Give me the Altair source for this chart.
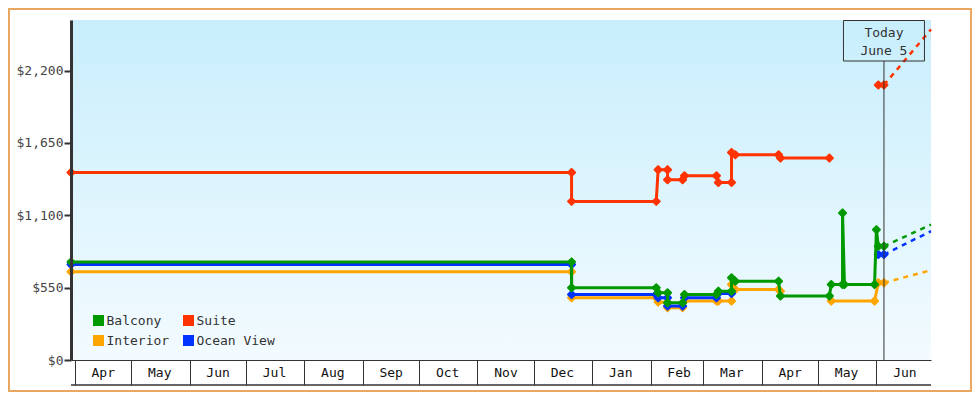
import altair as alt
import pandas as pd

MONO = "DejaVu Sans Mono"

# draw order (bottom to top) and colours
SERIES_NAMES = ["Interior", "Ocean View", "Balcony", "Suite"]
SERIES_COLORS = ["#ffa500", "#0033ff", "#009900", "#ff3300"]
LEGEND_ORDER = ["Balcony", "Suite", "Interior", "Ocean View"]

SUITE_DATES = ["2024-03-30", "2024-12-21", "2024-12-21", "2025-02-04", "2025-02-05",
               "2025-02-10", "2025-02-10", "2025-02-18", "2025-02-19", "2025-03-08",
               "2025-03-09", "2025-03-16", "2025-03-16", "2025-03-18", "2025-04-10",
               "2025-04-11", "2025-05-07", "2025-06-02", "2025-06-05"]
SUITE_PRICES = [1426, 1426, 1206, 1206, 1447, 1447, 1371, 1371, 1401, 1401,
                1350, 1350, 1578, 1560, 1560, 1535, 1535, 2091, 2091]
SUITE_SEGS = [0, 0, 0, 0, 0, 0, 0, 0, 0, 0, 0, 0, 0, 0, 0, 0, 0, 1, 1]

BALCONY_DATES = ["2024-03-30", "2024-12-21", "2024-12-21", "2025-02-04", "2025-02-05",
                 "2025-02-10", "2025-02-10", "2025-02-18", "2025-02-19", "2025-03-08",
                 "2025-03-09", "2025-03-16", "2025-03-16", "2025-03-18", "2025-04-10",
                 "2025-04-11", "2025-05-07", "2025-05-08", "2025-05-14", "2025-05-14",
                 "2025-05-15", "2025-05-31", "2025-06-01", "2025-06-02", "2025-06-05"]
BALCONY_PRICES = [746, 746, 549, 549, 511, 511, 435, 435, 498, 498,
                  523, 523, 625, 599, 599, 486, 486, 574, 574, 1118,
                  574, 574, 991, 865, 865]
BALCONY_SEGS = [0, 0, 0, 0, 0, 0, 0, 0, 0, 0, 0, 0, 0, 0, 0, 0, 0, 0, 0, 0, 0, 0, 0, 0, 0]

OCEAN_DATES = ["2024-03-30", "2024-12-21", "2024-12-21", "2025-02-04", "2025-02-05",
               "2025-02-10", "2025-02-10", "2025-02-18", "2025-02-19", "2025-03-08",
               "2025-03-09", "2025-03-16", "2025-06-02", "2025-06-05"]
OCEAN_PRICES = [726, 726, 498, 498, 473, 473, 410, 410, 473, 473, 506, 506, 802, 802]
OCEAN_SEGS = [0, 0, 0, 0, 0, 0, 0, 0, 0, 0, 0, 0, 1, 1]

INTERIOR_DATES = ["2024-03-30", "2024-12-21", "2024-12-21", "2025-02-04", "2025-02-05",
                  "2025-02-10", "2025-02-10", "2025-02-18", "2025-02-19", "2025-03-08",
                  "2025-03-09", "2025-03-16", "2025-03-16", "2025-03-18", "2025-04-10",
                  "2025-04-11", "2025-05-08", "2025-05-31", "2025-06-02", "2025-06-05"]
INTERIOR_PRICES = [671, 671, 473, 473, 440, 440, 398, 398, 448, 448,
                   448, 448, 574, 536, 536, 523, 448, 448, 587, 587]
INTERIOR_SEGS = [0, 0, 0, 0, 0, 0, 0, 0, 0, 0, 0, 0, 0, 0, 0, 0, 1, 1, 1, 1]

# dashed projections from today to the end of the axis
PROJ_NAMES = ["Interior", "Ocean View", "Balcony", "Suite"]
PROJ_FROM = [587, 802, 865, 2091]
PROJ_TO = [683, 979, 1029, 2514]
PROJ_START = "2025-06-05"
PROJ_END = "2025-06-30"

TODAY = "2025-06-05"
TODAY_LABEL = ["Today", "June 5"]

Y_TICKS = [0, 550, 1100, 1650, 2200]
Y_MAX = 2585

W, H = 860, 340

series_src = {
    "Interior": (INTERIOR_DATES, INTERIOR_PRICES, INTERIOR_SEGS),
    "Ocean View": (OCEAN_DATES, OCEAN_PRICES, OCEAN_SEGS),
    "Balcony": (BALCONY_DATES, BALCONY_PRICES, BALCONY_SEGS),
    "Suite": (SUITE_DATES, SUITE_PRICES, SUITE_SEGS),
}

x_scale = alt.Scale(domain=[alt.DateTime(year=2024, month=3, date=30),
                            alt.DateTime(year=2025, month=6, date=30)])
y_scale = alt.Scale(domain=[0, Y_MAX], nice=False)

x_axis = alt.Axis(format="%b", tickCount={"interval": "month", "step": 1},
                  tickSize=25, tickColor="#333", tickWidth=1,
                  domainColor="#333", domainWidth=1,
                  labelFont=MONO, labelFontSize=13, labelColor="#111",
                  labelPadding=-19, labelOffset=28, labelBaseline="top",
                  labelAlign="center", labelFlush=False, labelOverlap=False,
                  grid=False, title=None, zindex=1)
y_axis = alt.Axis(values=Y_TICKS, format="$,.0f", tickSize=7, tickWidth=2,
                  tickColor="#333", domainColor="#333", domainWidth=3,
                  labelFont=MONO, labelFontSize=13, labelColor="#444",
                  labelPadding=1, grid=False, title=None, zindex=1)

X = alt.X("date:T", scale=x_scale, axis=x_axis, title=None)
Y = alt.Y("price:Q", scale=y_scale, axis=y_axis, title=None)

one = pd.DataFrame({"k": [0]})

bg = alt.Chart(one).mark_rect(
    color=alt.LinearGradient(
        gradient="linear",
        stops=[alt.GradientStop(color="#c8eefc", offset=0),
               alt.GradientStop(color="#f3fbff", offset=1)],
        x1=0, x2=0, y1=0, y2=1)
).encode(x=alt.value(0), x2=alt.value(W), y=alt.value(0), y2=alt.value(H))

layers = [bg]
for name, color in zip(SERIES_NAMES, SERIES_COLORS):
    dates, prices, segs = series_src[name]
    sub = pd.DataFrame({
        "date": pd.to_datetime(dates),
        "price": prices,
        "seg": segs,
        "idx": list(range(len(dates))),
    })
    line = alt.Chart(sub).mark_line(strokeWidth=3, color=color).encode(
        x=X, y=Y, detail="seg:N", order="idx:Q")
    pts = alt.Chart(sub).mark_point(shape="diamond", filled=True, size=50,
                                    opacity=1, color=color, stroke=color,
                                    strokeWidth=2, strokeJoin="round").encode(x=X, y=Y)
    layers += [line, pts]

proj_rows = []
for n, a, b in zip(PROJ_NAMES, PROJ_FROM, PROJ_TO):
    proj_rows.append({"series": n, "date": pd.Timestamp(PROJ_START), "price": a})
    proj_rows.append({"series": n, "date": pd.Timestamp(PROJ_END), "price": b})
proj_df = pd.DataFrame(proj_rows)
proj = alt.Chart(proj_df).mark_line(strokeDash=[5, 5], strokeWidth=2.5).encode(
    x=X, y=Y,
    color=alt.Color("series:N", scale=alt.Scale(domain=SERIES_NAMES, range=SERIES_COLORS),
                    legend=None),
    detail="series:N")
layers.append(proj)

today_df = pd.DataFrame({"date": [pd.Timestamp(TODAY)]})
today_rule = alt.Chart(today_df).mark_rule(color="#333", strokeWidth=1).encode(
    x=X, y=alt.value(41), y2=alt.value(H))
today_box = alt.Chart(today_df).mark_rect(
    xOffset=-40.5, x2Offset=40.5, fillOpacity=0, stroke="#333", strokeWidth=1
).encode(x=X, x2="date:T", y=alt.value(0.5), y2=alt.value(41))
today_t1 = alt.Chart(today_df).mark_text(
    font=MONO, fontSize=13, color="#333", align="center", baseline="alphabetic"
).encode(x=X, y=alt.value(16.5), text=alt.value(TODAY_LABEL[0]))
today_t2 = alt.Chart(today_df).mark_text(
    font=MONO, fontSize=13, color="#333", align="center", baseline="alphabetic"
).encode(x=X, y=alt.value(34.5), text=alt.value(TODAY_LABEL[1]))
layers += [today_rule, today_box, today_t1, today_t2]

# legend inside the plot, 2 columns
color_of = dict(zip(SERIES_NAMES, SERIES_COLORS))
for i, name in enumerate(LEGEND_ORDER):
    col, row = i % 2, i // 2
    sq = alt.Chart(one).mark_square(size=121, opacity=1, filled=True,
                                    color=color_of[name]).encode(
        x=alt.value(27.5 + 90 * col), y=alt.value(300.5 + 20 * row))
    tx = alt.Chart(one).mark_text(font=MONO, fontSize=13, color="#333",
                                  align="left", baseline="alphabetic").encode(
        x=alt.value(35.5 + 90 * col), y=alt.value(304.5 + 20 * row),
        text=alt.value(name))
    layers += [sq, tx]

# bottom line of the month boxes
bottom = alt.Chart(one).mark_rule(color="#333", strokeWidth=1.5).encode(
    x=alt.value(0), x2=alt.value(W), y=alt.value(H + 25), y2=alt.value(H + 25))
# outer frame
frame = alt.Chart(one).mark_rect(fillOpacity=0, stroke="#e8a862", strokeWidth=2).encode(
    x=alt.value(-62), x2=alt.value(900), y=alt.value(-11), y2=alt.value(371))
layers += [bottom, frame]

chart = alt.layer(*layers).properties(
    width=W, height=H,
    autosize=alt.AutoSizeParams(type="none"),
    padding={"left": 63, "top": 12, "right": 41, "bottom": 32},
    background="white",
).configure_view(strokeWidth=0)

chart.save("out.html", embed_options={"renderer": "svg", "actions": False})
